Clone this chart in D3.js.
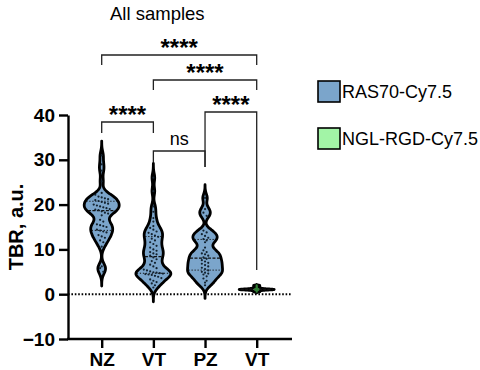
<!DOCTYPE html>
<html>
<head>
<meta charset="utf-8">
<script src="https://cdn.jsdelivr.net/npm/d3@7"></script>
<style>
  body { margin: 0; background: #fff; }
  text { font-family: Arial, "Liberation Sans", Helvetica, sans-serif; fill: #000; }
</style>
</head>
<body>
<div id="my_dataviz"></div>
<script>

// data
var groups = ["NZ", "VT", "PZ", "VT"];
var nzRas = [31.0, 29.0, 27.6, 25.2, 22.6, 22.2, 21.8, 21.6, 21.4, 21.2, 21.0, 20.8, 20.6, 20.4, 20.2, 20.0,
  19.8, 19.6, 19.4, 19.2, 19.0, 18.9, 18.8, 18.5, 18.2, 18.0, 17.6, 16.6, 16.2, 15.6, 15.4, 15.2, 15.0, 14.4,
  14.2, 14.0, 13.8, 13.2, 12.9, 12.6, 12.0, 11.6, 10.6, 6.2, 5.8, 5.0];
var vtRas = [26.0, 23.0, 19.6, 18.4, 17.0, 16.2, 15.2, 14.8, 14.4, 14.0, 13.7, 13.4, 13.1, 12.8, 12.4, 12.0,
  11.6, 11.2, 10.8, 10.4, 10.0, 9.7, 9.4, 9.1, 8.9, 8.6, 8.2, 7.8, 7.4, 7.0, 6.6, 6.2, 5.8, 5.5, 5.3, 5.1,
  4.9, 4.8, 4.7, 4.6, 4.5, 4.4, 4.3, 4.1, 3.9, 3.6, 3.3, 3.0, 2.7, 2.4, 2.0, 1.5];
var pzRas = [21.5, 19.0, 18.2, 17.5, 14.2, 13.8, 13.4, 13.0, 12.6, 12.3, 12.0, 11.6, 10.4, 9.8, 9.4, 9.1,
  8.9, 8.6, 8.2, 7.9, 7.6, 7.3, 7.0, 6.8, 6.5, 6.2, 5.9, 5.6, 5.3, 5.0, 4.8, 4.6, 4.4, 4.0, 3.5, 3.0, 2.6, 2.0];
var vtRgd = [0.55, 0.75, 0.9, 0.95, 1.0, 1.02, 1.05, 1.08, 1.1, 1.15, 1.2, 1.3, 1.45, 1.7, 1.95];
var seriesValues = [nzRas, vtRas, pzRas, vtRgd];
var seriesProbe = [0, 0, 0, 1]; // 0 = RAS70-Cy7.5, 1 = NGL-RGD-Cy7.5
var legendLabels = ["RAS70-Cy7.5", "NGL-RGD-Cy7.5"];
var yTicks = [-10, 0, 10, 20, 30, 40];
var title = "All samples";
var yTitle = "TBR, a.u.";
// comparisons: [group a, group b, label]
var comparisons = [[0, 3, "****"], [1, 3, "****"], [0, 1, "****"], [1, 2, "ns"], [2, 3, "****"]];

var probeFill = ["#7ba5cb", "#a2f4a6"];
var dotFill = ["#13222f", "#2f7d33"];

var svg = d3.select("#my_dataviz")
  .append("svg")
  .attr("width", 480)
  .attr("height", 370);

var y = d3.scaleLinear().domain([-10, 40]).range([339, 115]);
var x = d3.scalePoint().domain(d3.range(groups.length)).range([101.7, 256.7]);

// zero line
svg.append("line")
  .attr("x1", 68).attr("x2", 292)
  .attr("y1", y(0)).attr("y2", y(0))
  .attr("stroke", "#000").attr("stroke-width", 2)
  .attr("stroke-dasharray", "1.6,1.8");

// y axis
var yAxis = svg.append("g")
  .attr("transform", "translate(68,0)")
  .call(d3.axisLeft(y).tickValues(yTicks).tickSize(9).tickSizeOuter(0).tickPadding(4));
yAxis.select(".domain").attr("stroke-width", 2.4);
yAxis.selectAll(".tick line").attr("stroke-width", 2.4);
yAxis.selectAll("text").attr("font-size", 19).attr("font-weight", "bold")
  .attr("font-family", "Arial, 'Liberation Sans', sans-serif").attr("fill", "#000");

// x axis
var xAxis = svg.append("g")
  .attr("transform", "translate(0,339)")
  .call(d3.axisBottom(x).tickFormat(function (i) { return groups[i]; }).tickSize(9).tickSizeOuter(0).tickPadding(5));
xAxis.select(".domain").attr("d", "M67,0H292").attr("stroke-width", 2.4);
xAxis.selectAll(".tick line").attr("stroke-width", 2.4);
xAxis.selectAll("text").attr("font-size", 19).attr("font-weight", "bold")
  .attr("font-family", "Arial, 'Liberation Sans', sans-serif").attr("fill", "#000");

// y title
svg.append("text")
  .attr("transform", "translate(23," + ((y(-10) + y(40)) / 2) + ") rotate(-90)")
  .attr("text-anchor", "middle")
  .attr("font-size", 20).attr("font-weight", "bold")
  .text(yTitle);

// title
svg.append("text").attr("x", 110).attr("y", 20).attr("font-size", 18.5).text(title);

// kernel density helpers
function bandwidth(v) {
  return 0.36 * 1.06 * d3.deviation(v) * Math.pow(v.length, -0.2);
}
function density(v, h, t) {
  return d3.mean(v, function (d) { var u = (t - d) / h; return Math.exp(-0.5 * u * u); });
}

var halfWidth = 17.5;

seriesValues.forEach(function (vals, gi) {
  var h = bandwidth(vals);
  var lo = d3.min(vals) - 3.3 * h, hi = d3.max(vals) + 3.3 * h;
  var steps = d3.range(0, 151).map(function (k) { return lo + (hi - lo) * k / 150; });
  var dens = steps.map(function (t) { return [t, density(vals, h, t)]; });
  var w = d3.scaleLinear().domain([0, d3.max(dens, function (d) { return d[1]; })]).range([0, halfWidth]);
  var cx = x(gi);

  var area = d3.area()
    .curve(d3.curveBasis)
    .y(function (d) { return y(d[0]); })
    .x0(function (d) { return cx - w(d[1]); })
    .x1(function (d) { return cx + w(d[1]); });

  svg.append("path")
    .datum(dens)
    .attr("d", area)
    .attr("fill", probeFill[seriesProbe[gi]])
    .attr("stroke", "#000")
    .attr("stroke-width", 2.8)
    .attr("stroke-linejoin", "round");

  // median and quartiles
  var sorted = vals.slice().sort(d3.ascending);
  [0.25, 0.5, 0.75].forEach(function (q) {
    var qv = d3.quantile(sorted, q);
    var ww = w(density(vals, h, qv)) - 1;
    svg.append("line")
      .attr("x1", cx - ww).attr("x2", cx + ww)
      .attr("y1", y(qv)).attr("y2", y(qv))
      .attr("stroke", "#111")
      .attr("stroke-width", q == 0.5 ? 1.2 : 1)
      .attr("stroke-dasharray", q == 0.5 ? "3,1.5" : "1.2,1.8");
  });

  // points, spread out in rows
  var bin = (d3.max(vals) - d3.min(vals)) / 24;
  var rows = d3.group(vals, function (d) { return Math.round(d / bin); });
  rows.forEach(function (row) {
    row.forEach(function (d, k) {
      var off = (k - (row.length - 1) / 2) * 3.2;
      svg.append("circle")
        .attr("cx", cx + off)
        .attr("cy", y(d))
        .attr("r", 1.1)
        .attr("fill", dotFill[seriesProbe[gi]]);
    });
  });
});

// significance brackets
var bracketLayout = [
  { top: 55, left: 65, right: 65 },
  { top: 80, left: 90, right: 90 },
  { top: 122, left: 133, right: 133 },
  { top: 151, left: 162, right: 167 },
  { top: 112, left: 167, right: 270 }
];
comparisons.forEach(function (c, i) {
  var b = bracketLayout[i];
  var xa = x(c[0]), xb = x(c[1]);
  svg.append("path")
    .attr("d", "M" + xa + "," + b.left + "V" + b.top + "H" + xb + "V" + b.right)
    .attr("fill", "none")
    .attr("stroke", "#222")
    .attr("stroke-width", 1.3);
  var star = c[2] != "ns";
  svg.append("text")
    .attr("x", (xa + xb) / 2)
    .attr("y", star ? b.top + 1 : b.top - 6)
    .attr("text-anchor", "middle")
    .attr("font-size", star ? 24 : 18)
    .attr("font-weight", star ? "bold" : "normal")
    .text(c[2]);
});

// legend
legendLabels.forEach(function (lab, i) {
  var ly = 81 + i * 47;
  svg.append("rect")
    .attr("x", 318).attr("y", ly)
    .attr("width", 22).attr("height", 21)
    .attr("fill", probeFill[i])
    .attr("stroke", "#000").attr("stroke-width", 1.6);
  svg.append("text")
    .attr("x", 342).attr("y", ly + 17)
    .attr("font-size", 18)
    .text(lab);
});
</script>
</body>
</html>
